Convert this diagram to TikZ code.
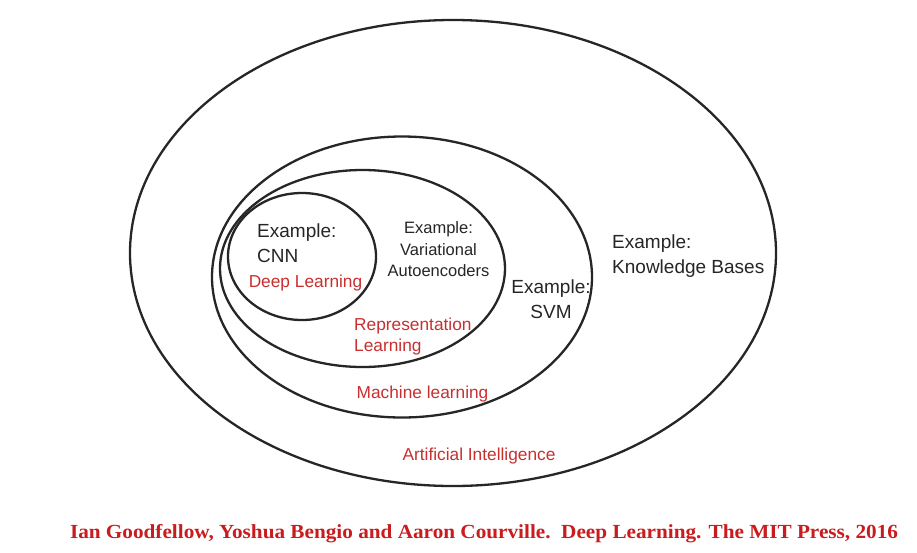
\documentclass[tikz,border=0pt]{standalone}
\usepackage{fontspec}
\usepackage{graphicx}
\setmainfont{Liberation Sans}
\newfontfamily\citefont{Liberation Serif}
\definecolor{ringcol}{RGB}{38,38,38}
\definecolor{labred}{RGB}{200,48,48}
\definecolor{citered}{RGB}{200,28,30}
\tikzset{
  ring/.style={draw=ringcol, line width=2.3pt},
  blacklab/.style={text=black!85, inner sep=0pt, font=\fontsize{19}{25}\selectfont},
  smalllab/.style={text=black!85, inner sep=0pt, font=\fontsize{16.5}{21.5}\selectfont},
  redlab/.style={text=labred, inner sep=0pt, font=\fontsize{17.3}{21}\selectfont},
  citelab/.style={text=citered, inner sep=0pt, font=\citefont\bfseries\fontsize{20}{22}\selectfont}
}
\begin{document}
\begin{tikzpicture}[x=1pt, y=-1pt]
\useasboundingbox[fill=white] (0,0) rectangle (917,552);
% rings
\draw[ring] (453,253) ellipse [x radius=323, y radius=233];
\draw[ring] (402,277) ellipse [x radius=190, y radius=140.5];
\draw[ring] (362.5,268.5) ellipse [x radius=142.5, y radius=98.5];
\draw[ring] (302,256.5) ellipse [x radius=74, y radius=63.5];
% labels
\node[blacklab, align=left, anchor=west] (cnn) at (257,243) {Example:\\CNN};
\node[redlab] (dl) at (305.5,283) {Deep Learning};
\node[smalllab, align=center] (vae) at (438.5,249.5) {Example:\\Variational\\Autoencoders};
\node[redlab, align=left, anchor=west] (rl) at (354,336.5) {Representation\\Learning};
\node[blacklab, align=center] (svm) at (551,299) {Example:\\SVM};
\node[blacklab, align=left, anchor=west] (kb) at (612,256) {Example:\\Knowledge Bases};
\node[redlab] (ml) at (422.5,394) {Machine learning};
\node[redlab] (ai) at (479,456) {Artificial Intelligence};
\node[citelab] (cite) at (484,534) {\resizebox{828pt}{\height}{Ian Goodfellow, Yoshua Bengio and Aaron Courville.\ \ Deep Learning. The MIT Press, 2016}};
\end{tikzpicture}
\end{document}
